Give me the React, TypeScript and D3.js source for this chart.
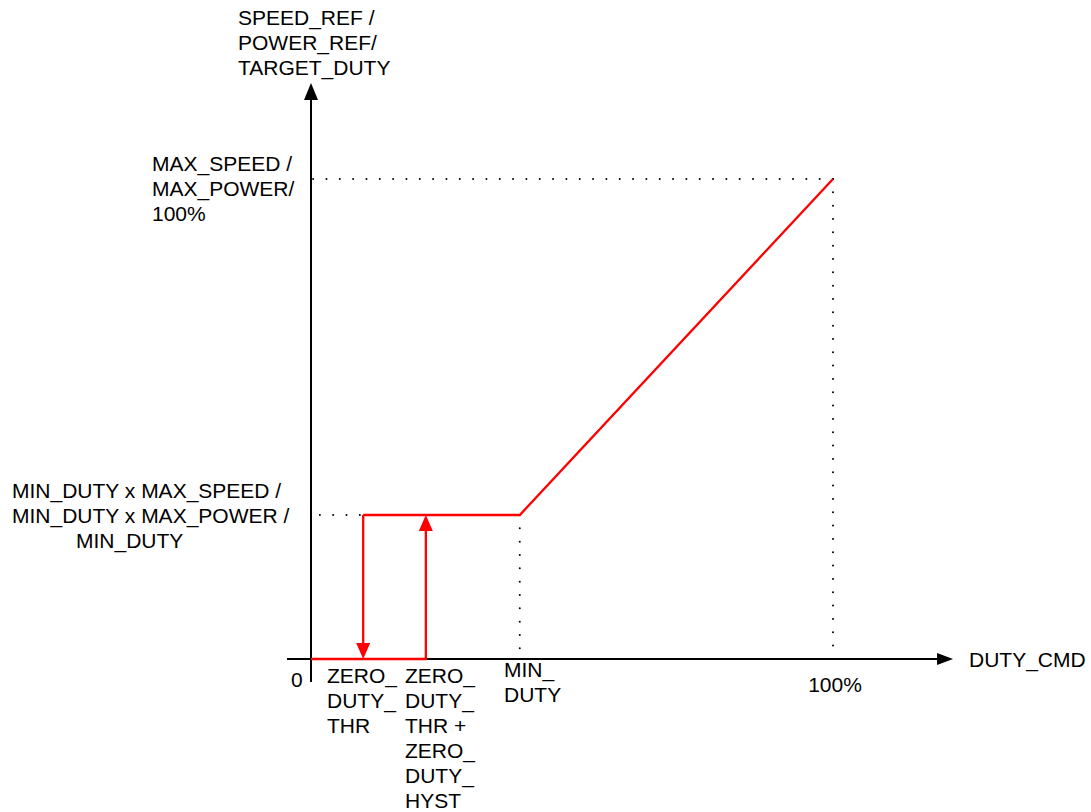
import React from "react";
import * as d3 from "d3";

// ---- data (in percent of duty / percent of output) ----
const zeroDutyThr = 10;
const zeroDutyThrPlusHyst = 22;
const minDuty = 40;
const maxDuty = 100;
const minOutput = 30;
const maxOutput = 100;
const xAxisExtent = [-4.6, 123];
const yAxisExtent = [-4.8, 120];

// transfer curve (upper branch) points
const curveX = [zeroDutyThr, minDuty, maxDuty];
const curveY = [minOutput, minOutput, maxOutput];

const yTitleLines = ["SPEED_REF /", "POWER_REF/", "TARGET_DUTY"];
const maxLabelLines = ["MAX_SPEED /", "MAX_POWER/", "100%"];
const minLabelLines = ["MIN_DUTY x MAX_SPEED /", "MIN_DUTY x MAX_POWER /", "MIN_DUTY"];
const thrLabelLines = ["ZERO_", "DUTY_", "THR"];
const hystLabelLines = ["ZERO_", "DUTY_", "THR +", "ZERO_", "DUTY_", "HYST"];
const minDutyLabelLines = ["MIN_", "DUTY"];
const xTitle = "DUTY_CMD";
const originLabel = "0";
const maxDutyLabel = "100%";

const W = 1091;
const H = 812;
const FONT = "'Liberation Sans', Arial, Helvetica, sans-serif";
const FS = 21;
const LH = 25;
const RED = "#ff0000";

function arrow(tipX: number, tipY: number, dx: number, dy: number, len: number, wid: number) {
  const bx = tipX - dx * len;
  const by = tipY - dy * len;
  const px = -dy * (wid / 2);
  const py = dx * (wid / 2);
  return `M${tipX},${tipY}L${bx + px},${by + py}L${bx - px},${by - py}Z`;
}

function Lines({ lines, x, y, anchor = "start", xs }: { lines: string[]; x: number; y: number; anchor?: string; xs?: number[] }) {
  return (
    <g>
      {lines.map((t, i) => (
        <text key={i} x={xs ? xs[i] : x} y={y + i * LH} textAnchor={anchor as any} fontFamily={FONT} fontSize={FS} fill="#000">
          {t}
        </text>
      ))}
    </g>
  );
}

export default function App() {
  const x = d3.scaleLinear().domain([0, 100]).range([311, 833]);
  const y = d3.scaleLinear().domain([0, 100]).range([659, 179]);

  const line = d3.line<[number, number]>().x((d) => x(d[0])).y((d) => y(d[1]));
  const curvePts: [number, number][] = curveX.map((v, i) => [v, curveY[i]]);

  const xa0 = x(xAxisExtent[0]);
  const xa1 = x(xAxisExtent[1]);
  const ya0 = y(yAxisExtent[0]);
  const ya1 = y(yAxisExtent[1]);
  const X0 = x(0);
  const Y0 = y(0);

  const dot = { stroke: "#000", strokeWidth: 2, strokeDasharray: "0 13.33", strokeLinecap: "round" as const, fill: "none" };
  const arrLen = 16;
  const arrW = 14;
  const RW = 2.3;

  return (
    <svg width={W} height={H} style={{ position: "absolute", left: 0, top: 0, background: "#fff" }}>
      {/* dotted guides */}
      <path d={`M${x(maxDuty)},${y(maxOutput)}L${X0},${y(maxOutput)}`} style={dot} />
      <path d={`M${x(maxDuty)},${y(maxOutput)}L${x(maxDuty)},${Y0}`} style={dot} />
      <path d={`M${x(minDuty)},${y(minOutput)}L${X0},${y(minOutput)}`} style={dot} />
      <path d={`M${x(minDuty)},${y(minOutput)}L${x(minDuty)},${Y0}`} style={dot} />

      {/* axes */}
      <path d={`M${xa0},${Y0}L${xa1 - 16},${Y0}`} stroke="#000" strokeWidth={2} fill="none" />
      <path d={arrow(xa1, Y0, 1, 0, 16, 12)} fill="#000" />
      <path d={`M${X0},${ya0}L${X0},${ya1 + 17}`} stroke="#000" strokeWidth={2} fill="none" />
      <path d={arrow(X0, ya1, 0, -1, 17, 14)} fill="#000" />

      {/* red transfer characteristic */}
      <path d={`M${x(0)},${Y0}L${x(zeroDutyThrPlusHyst)},${Y0}L${x(zeroDutyThrPlusHyst)},${y(minOutput) + arrLen}`} stroke={RED} strokeWidth={RW} fill="none" />
      <path d={arrow(x(zeroDutyThrPlusHyst), y(minOutput), 0, -1, arrLen, arrW)} fill={RED} />
      <path d={line(curvePts) || ""} stroke={RED} strokeWidth={RW} fill="none" />
      <path d={`M${x(zeroDutyThr)},${y(minOutput)}L${x(zeroDutyThr)},${Y0 - arrLen}`} stroke={RED} strokeWidth={RW} fill="none" />
      <path d={arrow(x(zeroDutyThr), Y0, 0, 1, arrLen, arrW)} fill={RED} />

      {/* labels */}
      <Lines lines={yTitleLines} x={238} y={25} />
      <Lines lines={maxLabelLines} x={152} y={y(maxOutput) - 8} />
      <Lines lines={minLabelLines} x={12} y={y(minOutput) - 17} xs={[12, 12, 76]} />
      <Lines lines={thrLabelLines} x={327} y={Y0 + 24} />
      <Lines lines={hystLabelLines} x={405} y={Y0 + 24} />
      <Lines lines={minDutyLabelLines} x={504} y={Y0 + 18} />
      <text x={969} y={Y0 + 8} fontFamily={FONT} fontSize={FS}>{xTitle}</text>
      <text x={291} y={Y0 + 28} fontFamily={FONT} fontSize={FS}>{originLabel}</text>
      <text x={x(maxDuty) + 2} y={Y0 + 33} textAnchor="middle" fontFamily={FONT} fontSize={FS}>{maxDutyLabel}</text>
    </svg>
  );
}
